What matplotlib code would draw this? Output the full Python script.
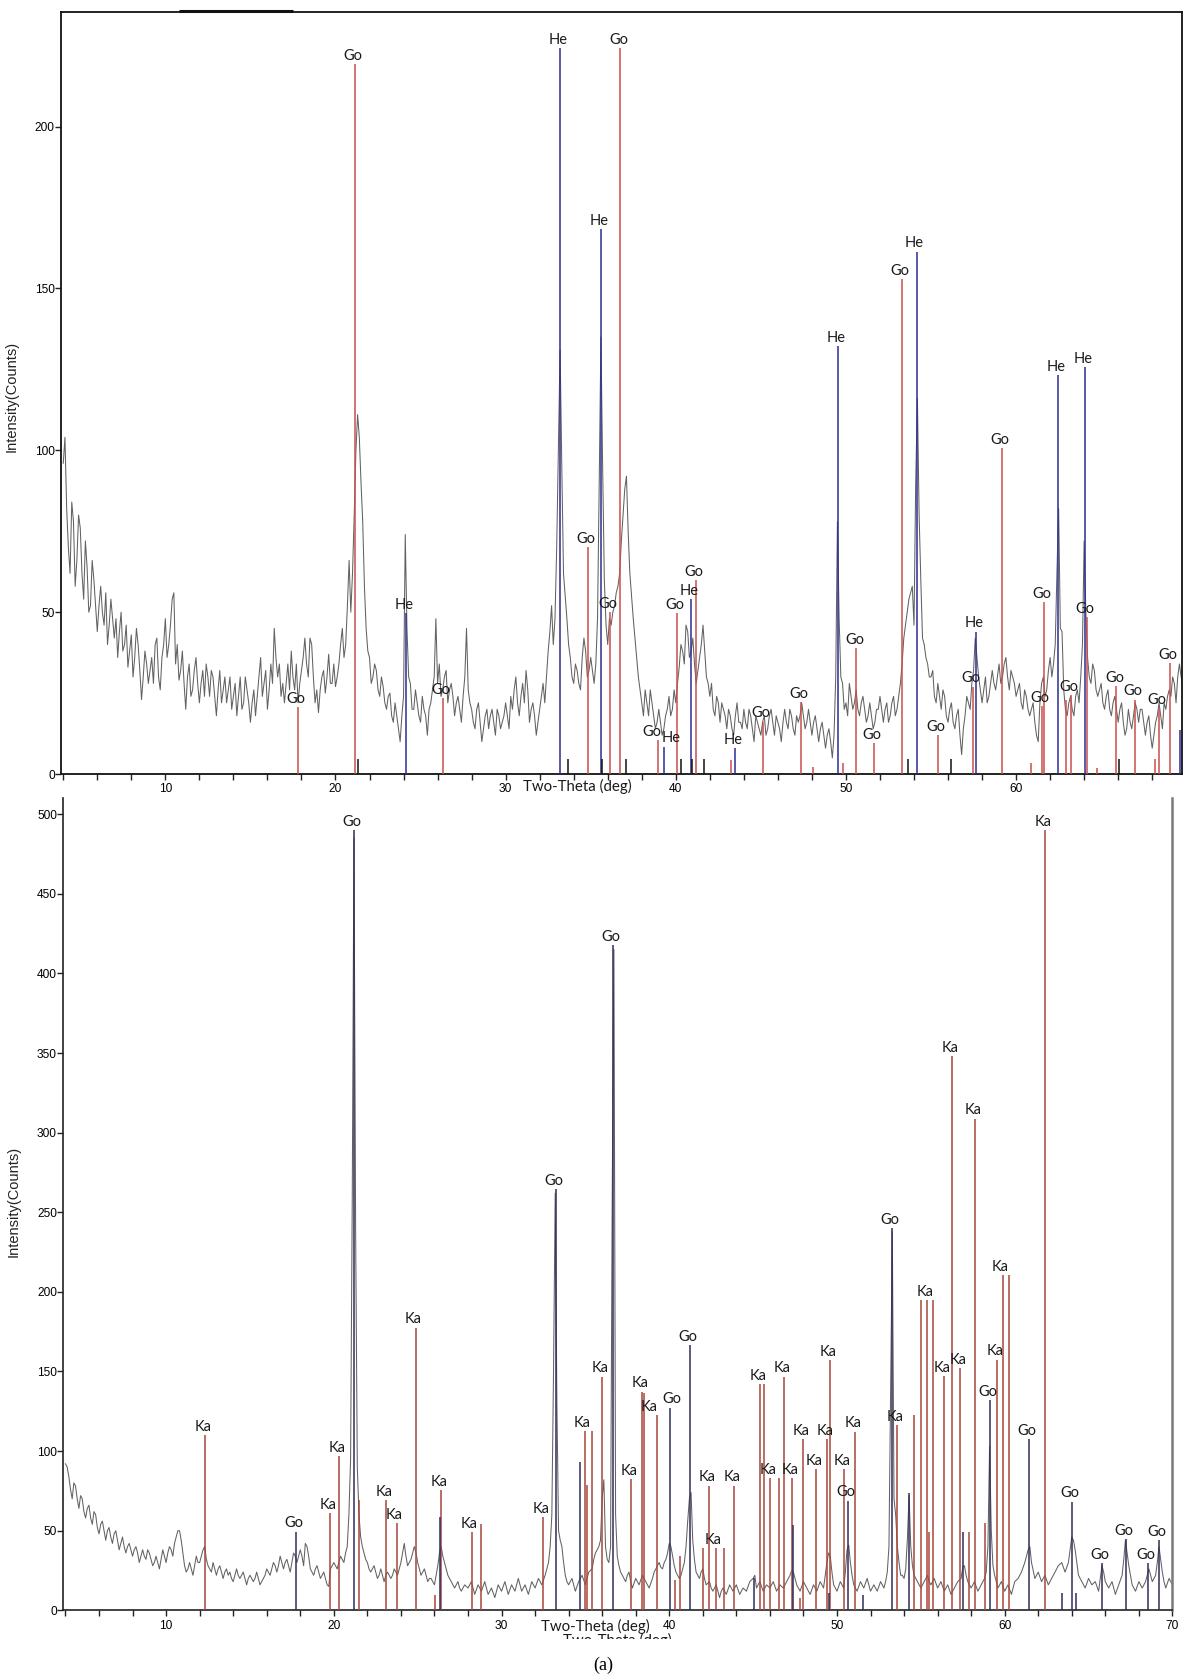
import numpy as np
import matplotlib.pyplot as plt
from matplotlib.patches import Rectangle

# measured scans, one value every 0.1 deg starting at 4.0 deg (one row per degree)
top_counts = [
    96, 104, 82, 70, 62, 84, 78, 58, 66, 80,
    76, 62, 54, 72, 64, 50, 52, 66, 60, 52,
    44, 52, 58, 50, 46, 56, 40, 46, 54, 48,
    42, 48, 36, 44, 50, 38, 40, 46, 33, 38,
    43, 30, 36, 45, 40, 32, 23, 30, 38, 34,
    28, 32, 36, 28, 40, 42, 30, 26, 36, 40,
    48, 36, 40, 46, 54, 56, 34, 40, 29, 32,
    38, 28, 20, 30, 34, 24, 26, 32, 36, 28,
    22, 28, 32, 24, 34, 30, 24, 32, 30, 24,
    18, 26, 32, 22, 26, 30, 22, 26, 30, 20,
    24, 28, 18, 24, 30, 20, 22, 30, 26, 22,
    16, 22, 26, 18, 24, 30, 36, 24, 28, 32,
    20, 26, 34, 28, 45, 36, 30, 34, 24, 28,
    22, 28, 34, 26, 38, 30, 26, 34, 22, 28,
    32, 36, 42, 34, 30, 42, 40, 30, 22, 26,
    19, 26, 30, 32, 25, 30, 37, 28, 28, 34,
    27, 30, 34, 40, 45, 36, 40, 52, 66, 50,
    62, 80, 100, 111, 104, 90, 78, 58, 45, 38,
    36, 28, 30, 34, 32, 26, 24, 30, 27, 22,
    20, 24, 25, 18, 16, 22, 18, 14, 10, 18,
    24, 74, 45, 30, 28, 20, 20, 26, 22, 18,
    16, 24, 20, 18, 12, 20, 22, 26, 30, 48,
    28, 34, 24, 26, 30, 32, 22, 26, 28, 24,
    18, 22, 24, 20, 16, 24, 30, 45, 26, 22,
    20, 16, 14, 20, 22, 16, 10, 14, 18, 20,
    14, 18, 20, 16, 12, 20, 18, 14, 16, 18,
    22, 18, 14, 24, 20, 26, 30, 22, 18, 24,
    28, 22, 32, 26, 16, 20, 22, 18, 12, 16,
    20, 24, 28, 22, 30, 38, 44, 52, 40, 48,
    70, 100, 131, 95, 62, 55, 48, 40, 36, 30,
    28, 34, 32, 28, 26, 36, 42, 38, 30, 32,
    36, 32, 28, 34, 48, 90, 135, 95, 60, 46,
    40, 48, 46, 50, 52, 56, 58, 62, 72, 80,
    88, 92, 75, 62, 55, 48, 42, 36, 30, 26,
    22, 18, 26, 22, 18, 26, 22, 18, 14, 16,
    20, 16, 12, 14, 18, 20, 24, 18, 20, 26,
    22, 28, 33, 40, 38, 34, 46, 44, 36, 38,
    42, 34, 28, 32, 36, 40, 46, 38, 30, 28,
    24, 28, 20, 18, 24, 22, 16, 22, 20, 18,
    14, 20, 18, 14, 12, 18, 22, 16, 16, 14,
    20, 16, 14, 20, 18, 14, 10, 18, 16, 14,
    12, 16, 18, 12, 14, 18, 20, 16, 12, 18,
    16, 14, 10, 16, 20, 16, 14, 20, 18, 14,
    12, 18, 16, 18, 22, 18, 14, 16, 20, 16,
    12, 16, 18, 14, 10, 14, 16, 12, 8, 12,
    14, 10, 5, 12, 30, 78, 48, 30, 28, 20,
    22, 18, 28, 24, 20, 22, 26, 20, 18, 22,
    24, 20, 16, 18, 22, 18, 14, 16, 20, 20,
    24, 20, 16, 20, 22, 16, 18, 22, 24, 18,
    20, 24, 28, 34, 42, 46, 50, 54, 56, 58,
    46, 90, 116, 80, 60, 42, 40, 36, 34, 30,
    30, 32, 24, 22, 28, 24, 20, 26, 24, 18,
    16, 20, 22, 16, 14, 18, 20, 12, 6, 14,
    18, 24, 22, 20, 28, 32, 42, 36, 30, 26,
    22, 26, 30, 22, 24, 28, 32, 28, 26, 30,
    34, 28, 30, 34, 36, 30, 26, 32, 30, 28,
    24, 26, 28, 22, 20, 26, 24, 20, 18, 20,
    22, 16, 12, 10, 22, 28, 30, 24, 26, 32,
    36, 30, 34, 40, 62, 82, 45, 44, 26, 20,
    18, 22, 24, 20, 18, 24, 26, 22, 30, 40,
    72, 50, 36, 30, 28, 34, 32, 26, 24, 26,
    28, 22, 20, 24, 26, 20, 18, 22, 24, 20,
    16, 20, 22, 16, 12, 14, 20, 16, 14, 18,
    22, 20, 16, 20, 20, 16, 12, 16, 18, 12,
    8, 12, 16, 18, 22, 18, 14, 22, 20, 24,
    26, 24, 30, 28, 22, 30, 34, 30, 28, 26,
]

bottom_counts = [
    92, 90, 84, 76, 70, 80, 78, 70, 64, 72,
    70, 62, 58, 64, 66, 58, 54, 62, 60, 52,
    48, 54, 56, 50, 44, 50, 52, 46, 42, 48,
    50, 44, 38, 42, 46, 40, 36, 40, 42, 38,
    34, 38, 40, 36, 30, 34, 38, 34, 32, 38,
    36, 32, 28, 30, 34, 30, 26, 32, 38, 34,
    30, 36, 40, 38, 34, 42, 46, 50, 50, 44,
    36, 28, 24, 26, 30, 26, 22, 28, 34, 30,
    30, 34, 38, 40, 32, 28, 26, 24, 30, 26,
    22, 26, 28, 24, 20, 24, 26, 22, 24, 20,
    18, 22, 26, 22, 20, 22, 24, 20, 16, 20,
    22, 20, 18, 20, 24, 20, 16, 18, 20, 22,
    26, 24, 22, 26, 30, 28, 24, 28, 34, 30,
    26, 30, 32, 28, 24, 30, 36, 34, 30, 34,
    38, 34, 28, 42, 40, 34, 26, 24, 22, 26,
    28, 24, 20, 22, 24, 20, 16, 15, 26, 28,
    30, 28, 26, 30, 34, 32, 30, 36, 40, 60,
    95, 260, 485, 240, 90, 60, 46, 40, 36, 32,
    30, 26, 24, 26, 28, 24, 20, 22, 26, 22,
    18, 22, 24, 22, 20, 22, 26, 24, 22, 26,
    30, 36, 42, 34, 28, 30, 32, 36, 40, 36,
    30, 26, 22, 24, 26, 22, 18, 20, 20, 18,
    16, 22, 28, 36, 40, 34, 30, 26, 22, 20,
    18, 16, 14, 16, 18, 14, 12, 14, 16, 15,
    14, 16, 18, 14, 10, 13, 16, 14, 12, 15,
    18, 14, 10, 12, 14, 11, 8, 12, 16, 14,
    12, 15, 18, 14, 10, 13, 16, 14, 12, 16,
    20, 16, 12, 14, 16, 13, 10, 14, 18, 16,
    14, 17, 20, 18, 16, 19, 22, 26, 30, 40,
    60, 150, 262, 130, 50, 44, 40, 30, 22, 18,
    16, 18, 20, 16, 12, 15, 18, 20, 22, 19,
    16, 20, 24, 25, 26, 32, 36, 38, 40, 44,
    70, 82, 40, 32, 30, 40, 260, 415, 60, 34,
    28, 24, 22, 20, 18, 22, 24, 18, 14, 17,
    20, 18, 16, 19, 22, 20, 18, 16, 14, 17,
    20, 24, 26, 28, 30, 27, 26, 30, 32, 36,
    42, 40, 34, 28, 24, 22, 20, 22, 26, 30,
    40, 56, 70, 74, 44, 32, 24, 22, 20, 24,
    26, 20, 16, 17, 18, 14, 12, 14, 16, 12,
    8, 12, 14, 12, 10, 13, 16, 14, 12, 14,
    16, 13, 10, 12, 14, 13, 12, 15, 18, 19,
    20, 22, 14, 16, 18, 15, 12, 14, 16, 15,
    14, 16, 18, 15, 12, 14, 16, 15, 14, 16,
    18, 20, 22, 25, 24, 20, 16, 14, 12, 15,
    18, 16, 14, 12, 10, 13, 16, 14, 12, 15,
    18, 16, 14, 22, 30, 36, 34, 24, 16, 14,
    12, 15, 18, 16, 14, 24, 38, 41, 30, 22,
    16, 14, 12, 15, 18, 16, 14, 17, 20, 16,
    12, 14, 16, 14, 12, 15, 18, 16, 14, 18,
    24, 40, 140, 238, 70, 60, 40, 30, 22, 22,
    20, 26, 45, 72, 40, 28, 22, 20, 18, 16,
    14, 16, 18, 20, 22, 18, 16, 18, 20, 17,
    14, 16, 18, 15, 12, 14, 16, 13, 10, 12,
    14, 16, 18, 19, 20, 27, 28, 22, 18, 16,
    14, 16, 18, 15, 12, 14, 16, 18, 20, 24,
    40, 103, 50, 28, 22, 18, 14, 16, 18, 15,
    12, 14, 16, 13, 10, 14, 18, 19, 20, 22,
    24, 27, 30, 34, 38, 40, 30, 25, 20, 22,
    24, 21, 18, 20, 22, 19, 16, 18, 20, 22,
    24, 26, 28, 29, 30, 27, 24, 27, 30, 38,
    46, 44, 38, 30, 22, 20, 18, 16, 14, 17,
    20, 18, 16, 17, 18, 15, 12, 20, 28, 24,
    18, 16, 14, 16, 18, 14, 10, 13, 16, 19,
    22, 32, 44, 36, 28, 22, 16, 14, 12, 15,
    18, 16, 14, 16, 18, 22, 26, 22, 18, 20,
    22, 30, 40, 32, 24, 18, 14, 17, 20, 18,
    16,
]

# reference patterns: position (deg), intensity (counts), labelled (1) or not (0)
top_go_pos = [17.79, 21.17, 26.3, 34.85, 36.12, 36.75, 38.95, 40.07, 41.19, 43.23,
              45.14, 47.38, 48.04, 49.85, 50.62, 51.62, 53.27, 55.42, 57.46, 59.16,
              60.85, 61.5, 61.62, 62.95, 63.22, 64.19, 64.76, 65.9, 67.0, 68.16,
              68.39, 69.06]
top_go_int = [20.8, 219.3, 23.5, 70, 50, 224.2, 10.5, 49.8, 60, 4.3,
              16.2, 22.3, 2.3, 3.5, 38.8, 9.5, 152.8, 12.0, 27.0, 100.6,
              3.5, 21.0, 53.0, 23.0, 24.5, 48.6, 2.0, 27.2, 23.0, 4.6,
              20.3, 34.3]
top_go_lab = [1, 1, 1, 1, 1, 1, 1, 1, 1, 0,
              1, 1, 0, 0, 1, 1, 1, 1, 1, 1,
              0, 1, 1, 0, 1, 1, 0, 1, 1, 0,
              1, 1]

top_he_pos = [24.14, 33.2, 35.62, 39.28, 40.88, 43.5, 49.53, 54.15, 57.63, 62.49, 64.04, 69.65]
top_he_int = [49.6, 224.2, 168.3, 8.5, 54, 7.9, 132.2, 161.4, 44, 123.3, 125.8, 13.5]
top_he_lab = [1, 1, 1, 1, 1, 1, 1, 1, 1, 1, 1, 0]

top_mark_pos = [21.3, 33.64, 35.67, 37.07, 40.3, 40.94, 41.63, 53.65, 56.17, 66.04]
top_mark_int = [4.8, 4.5, 4.5, 4.5, 4.5, 4.5, 4.5, 4.5, 4.5, 4.5]

bot_go_pos = [17.76, 21.2, 26.32, 33.23, 34.69, 36.66, 40.02, 41.25, 45.06, 47.37,
              49.55, 50.67, 51.56, 53.28, 54.3, 57.5, 59.13, 61.45, 63.4, 64.04,
              64.25, 65.79, 67.24, 68.55, 69.19]
bot_go_int = [49.4, 490, 58.8, 264.4, 93.4, 418, 127.3, 166.7, 20, 53.6,
              10.7, 68.9, 9.6, 240, 73.5, 49.4, 132, 107.4, 10.7, 68.3,
              10.7, 29.9, 44.6, 29.5, 44.2]
bot_go_lab = [1, 1, 0, 1, 0, 1, 1, 1, 0, 0,
              0, 1, 0, 1, 0, 0, 1, 1, 0, 1,
              0, 1, 1, 1, 1]

bot_ka_pos = [12.33, 19.79, 20.32, 21.48, 23.1, 23.74, 24.88, 26.02, 26.38, 28.22,
              28.75, 32.47, 34.95, 35.12, 35.41, 35.98, 37.71, 38.37, 38.49, 39.26,
              40.34, 40.67, 41.99, 42.39, 42.76, 43.27, 43.89, 45.42, 45.66, 45.99,
              46.57, 46.87, 47.31, 47.8, 47.96, 48.74, 49.41, 49.61, 50.43, 51.06,
              53.57, 54.6, 55.04, 55.38, 55.48, 55.73, 56.37, 56.85, 57.35, 57.9,
              58.22, 58.8, 59.53, 59.88, 60.25, 62.41]
bot_ka_int = [110.1, 60.9, 96.9, 69.3, 69.3, 54.6, 177.6, 9.6, 75.6, 49.2,
              54.1, 58.6, 112.4, 78.5, 112.4, 146.8, 82.3, 137.4, 136.3, 122.7,
              19, 34, 39.2, 78.3, 39, 39, 78.3, 142.2, 142.2, 82.9,
              82.9, 146.8, 82.9, 7.5, 107.4, 88.6, 107.4, 157.2, 88.6, 112.2,
              116.4, 122.7, 195, 195, 49.4, 195, 147.2, 348.2, 152, 49.4,
              308.8, 54.6, 157.5, 210.6, 210.6, 490]
bot_ka_lab = [1, 1, 1, 0, 1, 1, 1, 0, 1, 1,
              0, 1, 1, 0, 0, 1, 1, 1, 0, 1,
              0, 0, 0, 1, 1, 0, 1, 1, 0, 1,
              0, 1, 1, 0, 1, 1, 1, 1, 1, 1,
              1, 0, 0, 1, 0, 0, 1, 1, 1, 0,
              1, 0, 1, 1, 0, 1]

xtick_major = [10, 20, 30, 40, 50, 60, 70]
top_yticks = [0, 50, 100, 150, 200]
bot_yticks = [0, 50, 100, 150, 200, 250, 300, 350, 400, 450, 500]

# sideways shifts (points) for labels that would collide
label_shift = {38.95: -3, 39.28: 7, 39.26: -4, 40.02: 3}

plt.rcParams['font.family'] = ['Liberation Sans', 'DejaVu Sans']
LABEL_FONT = ['Lato', 'DejaVu Sans']

fig = plt.figure(figsize=(11.84, 16.78), dpi=100)
ax1 = fig.add_axes([0.0517, 0.5387, 0.9466, 0.4540])
ax2 = fig.add_axes([0.0536, 0.04035, 0.9366, 0.4839])


def scan(counts):
    x = 4.0 + 0.1 * np.arange(len(counts))
    return x, np.asarray(counts, float)


def sticks(ax, pos, inten, lab, color, text):
    ax.vlines(pos, 0, inten, colors=color, lw=1.1, zorder=3)
    for p, h, l in zip(pos, inten, lab):
        if l:
            dx = label_shift.get(p, 0) - 1.5
            ax.annotate(text, (p, h), xytext=(dx, 3), textcoords='offset points',
                        ha='center', va='baseline', fontsize=10.5,
                        family=LABEL_FONT, color='#1a1a1a', zorder=4)


def style(ax, xmax, ymax, yticks, last_label):
    ax.set_xlim(3.88, xmax)
    ax.set_ylim(0, ymax)
    ax.set_xticks([t for t in xtick_major if t <= last_label])
    ax.set_xticks(np.arange(4, xmax, 2), minor=True)
    ax.set_yticks(yticks)
    ax.tick_params(axis='both', which='both', direction='out', length=4.2,
                   width=1.0, labelsize=8.6, color='#222222')
    ax.tick_params(axis='x', which='both', pad=2.5)
    ax.tick_params(axis='y', pad=0.5)
    ax.set_ylabel('Intensity(Counts)', fontsize=10.5, color='#222222')


# top panel: goethite + hematite
x, y = scan(top_counts)
ax1.plot(x, y, color='#626262', lw=0.75, zorder=2)
sticks(ax1, top_go_pos, top_go_int, top_go_lab, '#c9504c', 'Go')
sticks(ax1, top_he_pos, top_he_int, top_he_lab, '#2c2c94', 'He')
ax1.vlines(top_mark_pos, 0, top_mark_int, colors='#111111', lw=1.1, zorder=3)
style(ax1, 69.75, 235.3, top_yticks, 60)
for s in ax1.spines.values():
    s.set_linewidth(1.3)
    s.set_color('#111111')
ax1.yaxis.set_label_coords(-0.0377, 0.496)
ax1.text(0.4607, -0.0167, 'Two-Theta (deg)', transform=ax1.transAxes,
         ha='center', va='center', fontsize=10.8, family=LABEL_FONT, color='#1a1a1a')
ax1.plot([0.105, 0.207], [1.001, 1.001], transform=ax1.transAxes,
         color='#111111', lw=2.2, clip_on=False, solid_capstyle='butt')

# bottom panel: goethite + kaolinite
x, y = scan(bottom_counts)
ax2.plot(x, y, color='#626262', lw=0.75, zorder=2)
sticks(ax2, bot_ka_pos, bot_ka_int, bot_ka_lab, '#a8473b', 'Ka')
sticks(ax2, bot_go_pos, bot_go_int, bot_go_lab, '#2d2f55', 'Go')
style(ax2, 70.0, 510, bot_yticks, 70)
ax2.spines['top'].set_visible(False)
for k in ('left', 'bottom'):
    ax2.spines[k].set_linewidth(1.2)
    ax2.spines[k].set_color('#222222')
ax2.spines['right'].set_linewidth(1.8)
ax2.spines['right'].set_color('#7a7a7a')
ax2.yaxis.set_label_coords(-0.0383, 0.504)
ax2.text(0.48, -0.0202, 'Two-Theta (deg)', transform=ax2.transAxes,
         ha='center', va='center', fontsize=10.8, family=LABEL_FONT, color='#1a1a1a')

# remains of a second, covered axis title
fig.text(617.5 / 1184, 1 - 1633 / 1678, 'Two-Theta (deg)', ha='center', va='top',
         fontsize=10.8, family=LABEL_FONT, color='#1a1a1a')
fig.patches.append(Rectangle((540 / 1184, 0), 160 / 1184, 1 - 1639 / 1678,
                             transform=fig.transFigure, facecolor='white',
                             edgecolor='none', zorder=5))
fig.text(603 / 1184, 1 - 1665 / 1678, '(a)', ha='center', va='center',
         fontsize=13, family=['Liberation Serif', 'DejaVu Serif'], zorder=6)

fig.savefig('out.png', dpi=100, facecolor='white')
